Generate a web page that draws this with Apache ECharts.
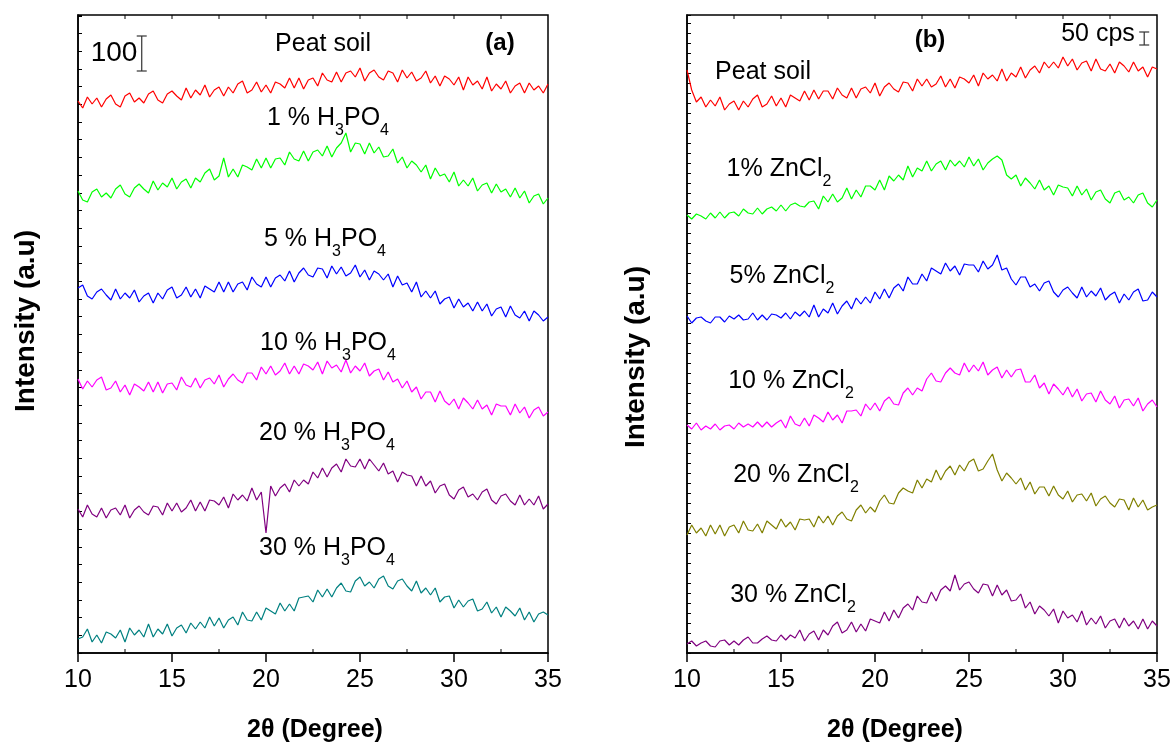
<!DOCTYPE html>
<html lang="en">
<head>
    <meta charset="UTF-8">
    <title>XRD patterns</title>
    <script src="https://cdn.jsdelivr.net/npm/echarts@6/dist/echarts.min.js"></script>
    <style>
        body { margin: 0; background: #fff; }
    </style>
</head>
<body>
    <div id="main" style="width: 1174px;height:742px;"></div>
    <script type="text/javascript">

        // 2theta grid (degree)
        var twoTheta = [10,10.25,10.5,10.75,11,11.25,11.5,11.75,12,12.25,12.5,12.75,13,13.25,13.5,13.75,14,14.25,14.5,14.75,15,15.25,15.5,15.75,16,16.25,16.5,16.75,17,17.25,17.5,17.75,18,18.25,18.5,18.75,19,19.25,19.5,19.75,20,20.25,20.5,20.75,21,21.25,21.5,21.75,22,22.25,22.5,22.75,23,23.25,23.5,23.75,24,24.25,24.5,24.75,25,25.25,25.5,25.75,26,26.25,26.5,26.75,27,27.25,27.5,27.75,28,28.25,28.5,28.75,29,29.25,29.5,29.75,30,30.25,30.5,30.75,31,31.25,31.5,31.75,32,32.25,32.5,32.75,33,33.25,33.5,33.75,34,34.25,34.5,34.75,35];

        // (a) H3PO4 series, stacked intensity (a.u.)
        var peatA = [552,545,556,549,555,546,554,558,549,546,557,560,551,555,550,559,562,553,550,559,562,557,553,565,555,563,558,568,556,563,566,557,566,560,569,572,560,563,571,561,568,560,571,569,565,575,565,575,564,573,575,567,580,573,571,581,571,580,582,576,585,572,580,583,576,573,582,580,571,583,575,581,572,575,582,570,577,567,577,574,568,576,563,576,568,572,564,576,562,569,564,572,560,567,570,560,570,563,567,560,569];
        var h3po4_1 = [462,453,451,461,464,456,460,455,464,468,459,456,465,469,464,460,472,463,470,466,475,464,471,474,465,475,471,480,484,473,477,495,476,484,476,488,486,483,494,485,495,485,494,495,488,501,494,492,502,492,501,503,497,507,496,505,510,520,501,510,509,499,510,500,506,496,497,504,490,496,485,492,488,481,488,474,485,477,479,471,481,467,473,467,475,462,468,470,460,469,461,464,456,465,455,462,450,457,459,449,455];
        var h3po4_5 = [365,368,357,354,361,364,358,353,364,354,360,355,363,351,357,360,350,360,354,363,366,355,358,366,356,364,355,367,364,361,371,361,371,361,369,371,363,376,369,366,376,366,375,378,372,382,371,380,385,378,376,385,384,375,387,379,386,377,380,388,376,383,373,382,379,373,379,366,377,368,370,361,371,356,362,355,362,349,354,356,345,354,346,350,342,351,342,349,337,344,346,336,347,338,335,342,332,342,338,332,336];
        var h3po4_10 = [274,264,272,266,273,276,263,265,272,261,268,258,269,266,262,271,261,271,260,269,270,263,276,268,266,275,265,273,275,269,278,266,274,279,273,270,280,280,273,286,279,287,278,282,290,279,287,279,289,287,283,291,279,292,285,288,281,293,280,287,282,290,277,282,284,273,281,271,274,265,272,261,266,254,261,261,251,262,252,248,254,244,255,250,244,253,244,248,238,249,247,247,238,249,240,246,235,243,246,237,241];
        var h3po4_20 = [144,136,148,139,136,145,135,143,145,138,148,135,143,147,141,138,147,146,138,150,142,150,141,145,153,142,151,142,153,152,148,156,145,159,153,158,152,165,153,161,120,167,157,165,169,161,173,167,173,169,181,175,185,176,185,189,181,194,187,186,194,184,194,188,182,190,179,182,171,181,178,177,167,177,167,172,160,167,169,158,154,163,166,156,159,153,161,164,153,149,157,159,152,148,158,148,154,148,157,144,149];
        var h3po4_30 = [14,16,24,11,18,10,21,19,15,23,11,25,18,23,16,29,16,24,19,29,17,25,28,20,30,24,31,25,36,27,35,25,33,36,28,41,33,32,41,33,45,42,39,50,42,49,42,55,56,57,51,63,56,64,56,65,70,62,61,72,76,67,71,65,74,77,67,64,72,74,67,62,72,60,65,58,65,51,56,57,45,53,46,52,54,42,44,51,40,46,36,46,42,37,45,33,41,31,39,41,38];

        // (b) ZnCl2 series, stacked intensity (a.u.)
        var peatB = [583,563,551,556,546,553,547,556,543,549,552,543,552,546,554,558,546,549,557,547,555,546,558,555,552,562,553,563,554,562,562,554,565,558,555,565,555,564,566,560,570,557,566,570,564,561,571,570,562,574,567,574,566,569,577,566,574,565,576,574,570,578,567,580,574,578,572,584,572,580,576,586,575,583,587,580,591,585,591,585,596,587,594,583,590,592,582,594,584,582,589,580,591,587,581,591,582,586,576,586,584];
        var zncl2_1 = [438,434,439,437,434,440,435,441,435,440,441,437,444,440,439,445,439,444,446,442,448,442,448,450,447,446,451,452,444,457,451,459,451,455,465,454,463,456,467,467,463,473,463,477,472,478,473,487,476,485,482,492,482,489,492,483,493,487,492,486,496,487,494,483,490,494,497,493,478,474,478,467,475,470,464,473,463,467,458,468,466,465,457,467,458,464,453,461,463,454,450,460,462,453,456,450,458,460,450,446,453];
        var zncl2_5 = [337,330,335,336,332,330,336,336,331,337,334,338,333,334,340,333,338,333,339,338,335,340,334,341,337,342,336,348,336,344,340,350,339,347,352,344,355,349,356,350,361,354,364,355,365,369,362,376,369,369,379,372,385,382,379,390,382,387,378,389,388,388,381,392,384,388,398,383,385,374,368,376,376,366,369,362,370,372,361,356,363,366,360,355,366,356,362,357,365,353,358,361,350,359,353,361,364,352,353,361,356];
        var zncl2_10 = [228,224,230,223,227,224,229,223,227,228,224,230,226,229,226,231,226,231,226,230,233,225,237,229,227,235,227,238,235,231,241,233,238,230,242,242,243,237,249,243,250,242,252,256,249,248,260,265,258,265,262,274,280,272,271,280,285,280,278,290,281,288,282,291,278,283,286,275,283,276,283,284,271,271,278,265,270,259,269,264,258,266,256,264,252,259,260,251,262,253,249,257,245,253,254,247,255,242,249,253,246];
        var zncl2_20 = [118,128,120,125,117,128,119,128,117,126,128,120,132,123,122,129,120,132,128,124,134,126,131,123,134,133,134,126,137,130,137,128,137,141,134,132,143,148,140,146,141,152,158,150,149,160,165,162,160,173,165,174,171,183,173,182,187,178,188,182,191,194,182,184,192,199,183,172,180,175,169,175,163,171,159,166,166,157,167,158,154,162,151,158,159,152,160,147,154,157,150,146,154,153,143,155,146,153,143,146,148];
        var zncl2_30 = [9,12,7,10,12,7,6,12,13,8,12,8,13,16,10,10,14,17,13,12,18,13,18,15,23,12,19,22,13,23,18,27,31,20,23,31,21,29,22,34,32,30,41,32,43,35,45,49,43,57,51,50,61,52,63,67,62,78,63,69,71,64,60,69,68,57,68,58,63,52,53,59,45,51,39,47,43,37,44,30,42,35,38,31,42,28,35,29,37,25,32,34,25,35,27,32,24,34,24,32,27];

        var namesA = ['Peat soil', '1 % H3PO4', '5 % H3PO4', '10 % H3PO4', '20 % H3PO4', '30 % H3PO4'];
        var namesB = ['Peat soil', '1% ZnCl2', '5% ZnCl2', '10 % ZnCl2', '20 % ZnCl2', '30 % ZnCl2'];
        var seriesA = [peatA, h3po4_1, h3po4_5, h3po4_10, h3po4_20, h3po4_30];
        var seriesB = [peatB, zncl2_1, zncl2_5, zncl2_10, zncl2_20, zncl2_30];
        var colorsA = ['#ff0000', '#00ff00', '#0000ff', '#ff00ff', '#800080', '#008080'];
        var colorsB = ['#ff0000', '#00ff00', '#0000ff', '#ff00ff', '#808000', '#800080'];

        // scale bars: [2theta, low, high]
        var scaleBarA = [13.39, 582, 617];
        var scaleBarB = [34.32, 608, 621];

        // small inward ticks on the frame (2theta positions)
        var topTicks = [12.5, 15, 17.5, 20, 22.5, 25, 27.5, 30, 32.5];
        var bottomMinorTicks = [12.5, 17.5, 22.5, 27.5, 32.5];

        var FONT = '"Liberation Sans", Arial, sans-serif';
        var myChart = echarts.init(document.getElementById('main'));

        function pairs(arr) {
            return twoTheta.map(function (t, i) { return [t, arr[i]]; });
        }

        function xAxis(grid) {
            return {
                gridIndex: grid, type: 'value', min: 10, max: 35, interval: 5, position: 'bottom',
                axisLine: {show: true, onZero: false, lineStyle: {color: '#000', width: 1.5}},
                axisTick: {show: true, inside: false, length: 9, lineStyle: {color: '#000', width: 1.5}},
                axisLabel: {color: '#000', fontSize: 25, fontFamily: FONT, margin: 15},
                splitLine: {show: false}
            };
        }

        function yAxis(grid, step) {
            return {
                gridIndex: grid, type: 'value', min: 0, max: 638, interval: step, position: 'left',
                axisLine: {show: true, onZero: false, lineStyle: {color: '#000', width: 1.5}},
                axisTick: {show: true, inside: true, length: 4, lineStyle: {color: '#000', width: 1}},
                axisLabel: {show: false},
                splitLine: {show: false}
            };
        }

        function scaleBar(idx, bar) {
            return {
                type: 'custom', xAxisIndex: idx, yAxisIndex: idx, silent: true, clip: false,
                data: [bar],
                renderItem: function (params, api) {
                    var hi = api.coord([api.value(0), api.value(2)]);
                    var lo = api.coord([api.value(0), api.value(1)]);
                    var st = {stroke: '#333', lineWidth: 1.2};
                    return {type: 'group', children: [
                        {type: 'line', shape: {x1: hi[0], y1: hi[1], x2: lo[0], y2: lo[1]}, style: st},
                        {type: 'line', shape: {x1: hi[0] - 5, y1: hi[1], x2: hi[0] + 5, y2: hi[1]}, style: st},
                        {type: 'line', shape: {x1: lo[0] - 5, y1: lo[1], x2: lo[0] + 5, y2: lo[1]}, style: st}
                    ]};
                }
            };
        }

        // frame ticks: [x, y, direction] with direction 1 = up from bottom, -1 = down from top
        function frameTicks(idx) {
            var data = topTicks.map(function (v) { return [v, 638, -1]; })
                .concat(bottomMinorTicks.map(function (v) { return [v, 0, 1]; }));
            return {
                type: 'custom', xAxisIndex: idx, yAxisIndex: idx, silent: true, clip: false,
                data: data,
                renderItem: function (params, api) {
                    var p = api.coord([api.value(0), api.value(1)]);
                    var d = api.value(2);
                    return {type: 'line', shape: {x1: p[0], y1: p[1], x2: p[0], y2: p[1] - 4 * d},
                        style: {stroke: '#000', lineWidth: 1}};
                }
            };
        }

        var series = [];
        seriesA.forEach(function (arr, i) {
            series.push({
                name: namesA[i], type: 'line', xAxisIndex: 0, yAxisIndex: 0,
                data: pairs(arr), showSymbol: false, silent: true,
                lineStyle: {color: colorsA[i], width: 1.2}
            });
        });
        seriesB.forEach(function (arr, i) {
            series.push({
                name: namesB[i], type: 'line', xAxisIndex: 1, yAxisIndex: 1,
                data: pairs(arr), showSymbol: false, silent: true,
                lineStyle: {color: colorsB[i], width: 1.2}
            });
        });
        series.push(scaleBar(0, scaleBarA));
        series.push(scaleBar(1, scaleBarB));
        series.push(frameTicks(0));
        series.push(frameTicks(1));

        var rich = {
            a: {fontSize: 25, lineHeight: 30, fontFamily: FONT, color: '#000'},
            s: {fontSize: 16, lineHeight: 30, fontFamily: FONT, color: '#000', padding: [26, 0, 0, 0]}
        };

        function label(text, x, y) {
            return {
                type: 'text', x: x, y: y, silent: true,
                style: {text: text, align: 'center', verticalAlign: 'middle', rich: rich}
            };
        }

        function plain(text, x, y, size, bold, rot) {
            return {
                type: 'text', x: x, y: y, rotation: rot || 0, silent: true,
                style: {
                    text: text, align: 'center', verticalAlign: 'middle',
                    fontSize: size, fontWeight: bold ? 'bold' : 'normal', fontFamily: FONT, fill: '#000'
                }
            };
        }

        var graphic = [
            label('{a|Peat soil}', 323, 44),
            label('{a|1 % H}{s|3}{a|PO}{s|4}', 328, 118),
            label('{a|5 % H}{s|3}{a|PO}{s|4}', 325, 239),
            label('{a|10 % H}{s|3}{a|PO}{s|4}', 328, 343),
            label('{a|20 % H}{s|3}{a|PO}{s|4}', 327, 433),
            label('{a|30 % H}{s|3}{a|PO}{s|4}', 327, 548),
            plain('(a)', 500, 43, 24, true),
            plain('100', 114, 53, 28, false),

            label('{a|Peat soil}', 763, 72),
            label('{a|1% ZnCl}{s|2}', 779, 169),
            label('{a|5% ZnCl}{s|2}', 782, 276),
            label('{a|10 % ZnCl}{s|2}', 791, 381),
            label('{a|20 % ZnCl}{s|2}', 796, 475),
            label('{a|30 % ZnCl}{s|2}', 793, 595),
            plain('(b)', 930, 40, 24, true),
            plain('50 cps', 1098, 34, 25, false),

            plain('Intensity (a.u)', 26, 321, 28, true, Math.PI / 2),
            plain('Intensity (a.u)', 636, 357, 28, true, Math.PI / 2),
            plain('2\u03b8 (Degree)', 315, 730, 25, true),
            plain('2\u03b8 (Degree)', 895, 730, 25, true)
        ];

        var option = {
            animation: false,
            backgroundColor: '#fff',
            grid: [
                {left: 78, top: 15, width: 470, height: 638, show: true, borderColor: '#000', borderWidth: 1.5, backgroundColor: 'transparent'},
                {left: 687, top: 15, width: 470, height: 638, show: true, borderColor: '#000', borderWidth: 1.5, backgroundColor: 'transparent'}
            ],
            xAxis: [xAxis(0), xAxis(1)],
            yAxis: [yAxis(0, 17.7), yAxis(1, 10)],
            series: series,
            graphic: graphic
        };
        myChart.setOption(option);

    </script>
</body>
</html>
